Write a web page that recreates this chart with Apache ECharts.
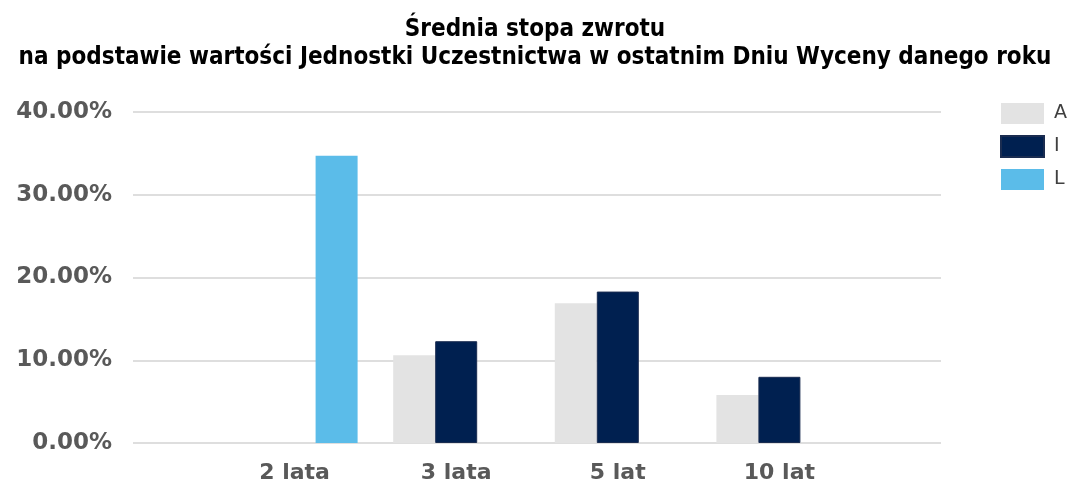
<!DOCTYPE html>
<html>
<head>
<meta charset="utf-8">
<script src="https://cdn.jsdelivr.net/npm/echarts@6/dist/echarts.min.js"></script>
<style>html,body{margin:0;padding:0;background:#fff;}#c{width:1070px;height:484px;}</style>
</head>
<body>
<div id="c"></div>
<script>
const categories = ['2 lata', '3 lata', '5 lat', '10 lat'];
const seriesA = [null, 10.6, 16.9, 5.8];
const seriesI = [null, 12.3, 18.3, 8.0];
const seriesL = [34.7, null, null, null];
const yTicks = [0, 10, 20, 30, 40];
const titleLines = ['Średnia stopa zwrotu', 'na podstawie wartości Jednostki Uczestnictwa w ostatnim Dniu Wyceny danego roku'];

// pad with empty slots so the gridlines extend half a band beyond the outer groups
const axisCats = [''].concat(categories, ['']);
const pad = arr => [null].concat(arr, [null]);

const chart = echarts.init(document.getElementById('c'));
chart.setOption({
  animation: false,
  title: {
    text: titleLines.join('\n'),
    left: 'center',
    top: 11,
    textStyle: { fontFamily: 'DejaVu Sans Condensed', fontWeight: 'bold', fontSize: 24, color: '#000', lineHeight: 28 }
  },
  legend: {
    orient: 'vertical',
    left: 995,
    top: 98,
    itemWidth: 43,
    itemHeight: 21,
    itemGap: 11,
    icon: 'rect',
    textStyle: { fontFamily: 'DejaVu Sans', fontSize: 19, color: '#404040', padding: [0, 0, 0, 5] },
    data: ['A', 'I', 'L']
  },
  grid: { left: 133, right: 129, top: 112, bottom: 41 },
  xAxis: {
    type: 'category',
    data: axisCats,
    boundaryGap: false,
    axisLine: { show: false },
    axisTick: { show: false },
    splitLine: { show: false },
    axisLabel: { fontFamily: 'DejaVu Sans', fontWeight: 'bold', fontSize: 22, color: '#595959', margin: 19, interval: 0 }
  },
  yAxis: {
    type: 'value',
    min: yTicks[0],
    max: yTicks[yTicks.length - 1],
    interval: 10,
    axisLine: { show: false },
    axisTick: { show: false },
    splitLine: { lineStyle: { color: '#dedede', width: 2 } },
    axisLabel: {
      fontFamily: 'DejaVu Sans', fontWeight: 'bold', fontSize: 23, color: '#595959', margin: 21,
      formatter: v => v.toFixed(2) + '%'
    }
  },
  series: [
    { name: 'A', type: 'bar', data: pad(seriesA), barWidth: 42, barGap: '0%', itemStyle: { color: '#e3e3e3' } },
    { name: 'I', type: 'bar', data: pad(seriesI), barWidth: 42, barGap: '0%', itemStyle: { color: '#002050', borderColor: '#1a2c50', borderWidth: 1 } },
    { name: 'L', type: 'bar', data: pad(seriesL), barWidth: 42, barGap: '0%', itemStyle: { color: '#5bbce9' } }
  ]
});
</script>
</body>
</html>
